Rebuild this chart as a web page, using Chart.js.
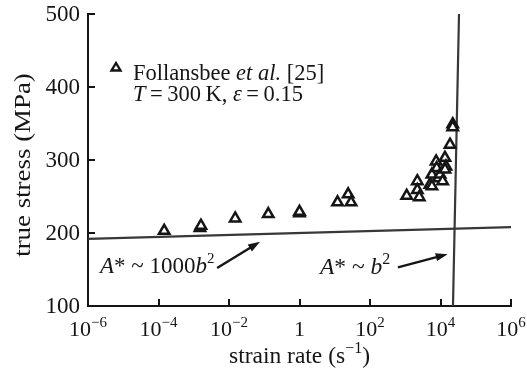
<!DOCTYPE html>
<html>
<head>
<meta charset="utf-8">
<script src="https://cdn.jsdelivr.net/npm/chart.js@4"></script>
<style>
  html, body { margin: 0; padding: 0; background: #fff; }
</style>
</head>
<body>
<canvas id="chart" width="527" height="371"></canvas>
<script>
// ---- data ----
const strainRates = [1.45e-4, 1.5e-3, 1.6e-3, 1.5e-2, 0.13, 1.0, 1.0, 12, 24, 29,
    1100, 2200, 2200, 2500, 5000, 5700, 5700, 7500, 7800, 8700, 9700, 11500,
    13400, 14300, 13400, 18600, 22200, 22200];
const trueStress = [203, 207, 210, 220, 226, 227, 229, 242, 253, 242,
    251, 271, 259, 249, 266, 264, 280, 298, 289, 275, 280, 271,
    303, 291, 287, 321, 349, 345];

// A* ~ 1000b^2 line and A* ~ b^2 cutoff
const athermalRates = [1e-6, 1e6];
const athermalStress = [192, 208];
const cutoffRates = [22600, 33500];
const cutoffStress = [100, 500];

// annotation arrows [rate, stress]
const arrowLowFrom = [4.6e-3, 152];
const arrowLowTo = [0.076, 188];
const arrowHighFrom = [620, 153];
const arrowHighTo = [16000, 171];

// tick labels
const xTickExponents = [-6, -4, -2, 0, 2, 4, 6];
const yTickValues = [100, 200, 300, 400, 500];

const SERIF = '"Liberation Serif", "Times New Roman", serif';
const INK = '#151515';

function font(size, italic) {
    return (italic ? 'italic ' : '') + size + 'px ' + SERIF;
}

// draws a list of text runs: {t, it, sup}
function drawRuns(ctx, x, y, runs, size, align) {
    const supSize = Math.round(size * 0.66);
    let total = 0;
    runs.forEach(r => {
        ctx.font = font(r.sup ? supSize : size, r.it);
        r.w = ctx.measureText(r.t).width;
        total += r.w;
    });
    let cx = align === 'center' ? x - total / 2 : align === 'right' ? x - total : x;
    ctx.textAlign = 'left';
    ctx.textBaseline = 'alphabetic';
    runs.forEach(r => {
        ctx.font = font(r.sup ? supSize : size, r.it);
        ctx.fillText(r.t, cx, r.sup ? y - size * 0.42 : y);
        cx += r.w;
    });
}

function drawArrow(ctx, x1, y1, x2, y2) {
    const ang = Math.atan2(y2 - y1, x2 - x1);
    const len = 12, half = 4;
    ctx.beginPath();
    ctx.moveTo(x1, y1);
    ctx.lineTo(x2 - Math.cos(ang) * len * 0.8, y2 - Math.sin(ang) * len * 0.8);
    ctx.lineWidth = 2.4;
    ctx.stroke();
    ctx.beginPath();
    ctx.moveTo(x2, y2);
    ctx.lineTo(x2 - Math.cos(ang) * len - Math.sin(ang) * half, y2 - Math.sin(ang) * len + Math.cos(ang) * half);
    ctx.lineTo(x2 - Math.cos(ang) * len + Math.sin(ang) * half, y2 - Math.sin(ang) * len - Math.cos(ang) * half);
    ctx.closePath();
    ctx.fill();
}

const decorPlugin = {
    id: 'decor',
    afterDraw(chart) {
        const ctx = chart.ctx;
        const xs = chart.scales.x, ys = chart.scales.y;
        const area = chart.chartArea;
        ctx.save();
        ctx.strokeStyle = INK;
        ctx.fillStyle = INK;

        // inward tick marks
        ctx.lineWidth = 2;
        ctx.beginPath();
        yTickValues.forEach(v => {
            const py = Math.round(ys.getPixelForValue(v));
            ctx.moveTo(area.left, py);
            ctx.lineTo(area.left + 7, py);
        });
        xTickExponents.forEach(e => {
            const px = Math.round(xs.getPixelForValue(Math.pow(10, e)));
            ctx.moveTo(px, area.bottom);
            ctx.lineTo(px, area.bottom - 7);
        });
        ctx.stroke();

        // tick labels
        yTickValues.forEach(v => {
            ctx.font = font(23);
            ctx.textAlign = 'right';
            ctx.textBaseline = 'middle';
            ctx.fillText(String(v), area.left - 8, ys.getPixelForValue(v) + 1);
        });
        xTickExponents.forEach(e => {
            const px = xs.getPixelForValue(Math.pow(10, e));
            const runs = e === 0 ? [{ t: '1' }] : [{ t: '10' }, { t: (e < 0 ? '\u2212' : '') + Math.abs(e), sup: true }];
            drawRuns(ctx, px, area.bottom + 30, runs, 22, 'center');
        });

        // axis titles
        drawRuns(ctx, (area.left + area.right) / 2, 363,
            [{ t: 'strain rate (s' }, { t: '\u22121', sup: true }, { t: ')' }], 23.5, 'center');
        ctx.save();
        ctx.translate(30, 165);
        ctx.rotate(-Math.PI / 2);
        ctx.scale(1.12, 1);
        drawRuns(ctx, 0, 0, [{ t: 'true stress (MPa)' }], 24, 'center');
        ctx.restore();

        // legend
        ctx.lineWidth = 2.4;
        ctx.beginPath();
        ctx.moveTo(116, 63);
        ctx.lineTo(120.5, 70.5);
        ctx.lineTo(111.5, 70.5);
        ctx.closePath();
        ctx.stroke();
        drawRuns(ctx, 133, 80, [{ t: 'Follansbee ' }, { t: 'et al.', it: true }, { t: ' [25]' }], 22.5, 'left');
        drawRuns(ctx, 133, 101, [{ t: 'T', it: true }, { t: '\u2009=\u2009300\u2009K, ' }, { t: '\u03b5', it: true }, { t: '\u2009=\u20090.15' }], 22.5, 'left');

        // annotations
        drawRuns(ctx, 100, 273, [{ t: 'A', it: true }, { t: '* ~ 1000' }, { t: 'b', it: true }, { t: '2', sup: true }], 23, 'left');
        drawRuns(ctx, 320, 274, [{ t: 'A', it: true }, { t: '* ~ ' }, { t: 'b', it: true }, { t: '2', sup: true }], 23.5, 'left');

        [[arrowLowFrom, arrowLowTo], [arrowHighFrom, arrowHighTo]].forEach(([f, t]) => {
            drawArrow(ctx, xs.getPixelForValue(f[0]), ys.getPixelForValue(f[1]),
                xs.getPixelForValue(t[0]), ys.getPixelForValue(t[1]));
        });
        ctx.restore();
    }
};

const axisBorder = { display: true, color: INK, width: 2 };

new Chart(document.getElementById('chart').getContext('2d'), {
    type: 'scatter',
    data: {
        datasets: [
            {
                label: 'Follansbee et al. [25]',
                data: strainRates.map((r, i) => ({ x: r, y: trueStress[i] })),
                pointStyle: 'triangle',
                pointRadius: 6,
                pointBorderWidth: 2.5,
                pointBorderColor: INK,
                pointBackgroundColor: '#fff',
                order: 1
            },
            {
                type: 'line',
                label: 'A* ~ 1000b2',
                data: athermalRates.map((r, i) => ({ x: r, y: athermalStress[i] })),
                borderColor: '#383838',
                borderWidth: 2.2,
                pointRadius: 0,
                order: 2
            },
            {
                type: 'line',
                label: 'A* ~ b2',
                data: cutoffRates.map((r, i) => ({ x: r, y: cutoffStress[i] })),
                borderColor: '#383838',
                borderWidth: 2.2,
                pointRadius: 0,
                order: 2
            }
        ]
    },
    options: {
        responsive: false,
        animation: false,
        devicePixelRatio: 1,
        layout: { padding: { left: 0, right: 16, top: 14, bottom: 0 } },
        plugins: {
            legend: { display: false },
            tooltip: { enabled: false }
        },
        scales: {
            x: {
                type: 'logarithmic',
                min: 1e-6,
                max: 1e6,
                grid: { display: false },
                border: axisBorder,
                ticks: { display: false },
                afterFit: s => { s.height = 65; }
            },
            y: {
                type: 'linear',
                min: 100,
                max: 500,
                grid: { display: false },
                border: axisBorder,
                ticks: { display: false },
                afterFit: s => { s.width = 88; }
            }
        }
    },
    plugins: [decorPlugin]
});
</script>
</body>
</html>
